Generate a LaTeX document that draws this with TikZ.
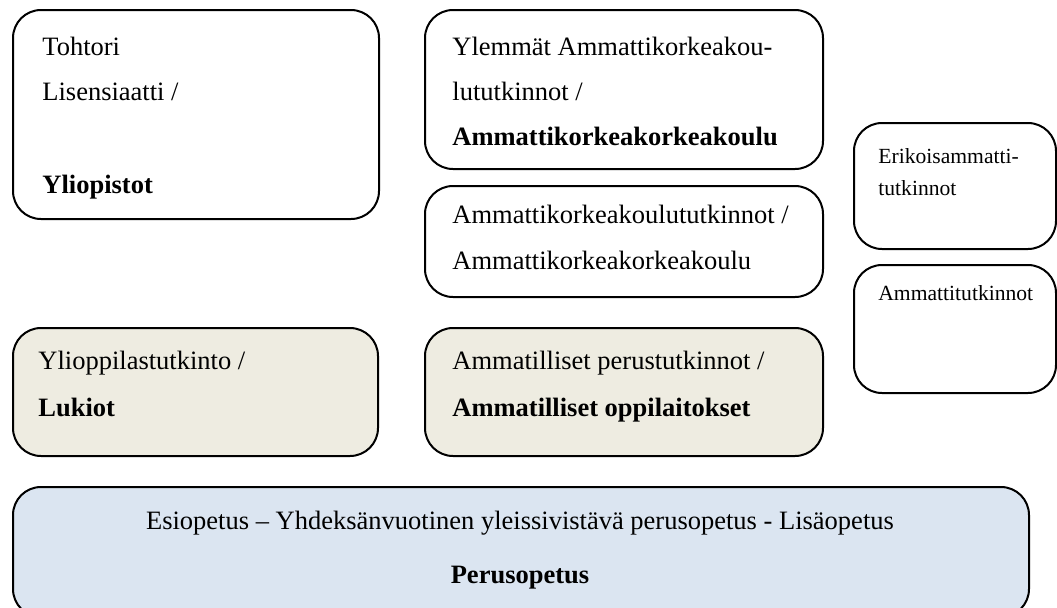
\documentclass[tikz,border=0pt]{standalone}
\usepackage{fontspec}
\setmainfont{Liberation Serif}
\definecolor{lukiofill}{HTML}{EEECE1}
\definecolor{perusfill}{HTML}{DBE5F1}
\tikzset{
  kouluaste/.style={draw, line width=1pt, rounded corners=14pt, anchor=north west, inner sep=0pt},
  tutkinto/.style={anchor=base west, inner sep=0pt, font=\fontsize{13.25}{22.5}\selectfont},
  pieni/.style={anchor=base west, inner sep=0pt, font=\fontsize{10.8}{16}\selectfont},
}
\begin{document}
\begin{tikzpicture}[x=0.5pt, y=-0.5pt]
\useasboundingbox (0,0) rectangle (1057,607);
% korkea-aste
\node[kouluaste, minimum width=183pt, minimum height=104.5pt] (yliopisto) at (12,9) {};
\node[kouluaste, minimum width=199pt, minimum height=79.5pt] (ylempiamk) at (424,9) {};
\node[kouluaste, minimum width=199pt, minimum height=55.5pt] (amk) at (424,185) {};
% aikuiskoulutus
\node[kouluaste, minimum width=101pt, minimum height=63pt] (erikois) at (853,122) {};
\node[kouluaste, minimum width=101pt, minimum height=64pt] (ammatti) at (853,264) {};
% toinen aste
\node[kouluaste, fill=lukiofill, minimum width=182.5pt, minimum height=64pt] (lukio) at (12,327) {};
\node[kouluaste, fill=lukiofill, minimum width=199pt, minimum height=64pt] (ammatillinen) at (424,327) {};
% perusaste
\node[kouluaste, fill=perusfill, minimum width=508pt, minimum height=65pt] (perus) at (12,486) {};

\node[tutkinto] (tohtori) at (42,55) {Tohtori};
\node[tutkinto] (lisensiaatti) at (42,100) {Lisensiaatti /};
\node[tutkinto] (yliopistot) at (42,193) {\textbf{Yliopistot}};

\node[tutkinto] (ylempi1) at (452,55) {Ylemmät Ammattikorkeakou-};
\node[tutkinto] (ylempi2) at (452,100) {lututkinnot /};
\node[tutkinto] (ylempi3) at (452,145) {\textbf{Ammattikorkeakorkeakoulu}};

\node[tutkinto] (amk1) at (452,223) {Ammattikorkeakoulututkinnot /};
\node[tutkinto] (amk2) at (452,269) {Ammattikorkeakorkeakoulu};

\node[pieni] (erikois1) at (878,163) {Erikoisammatti-};
\node[pieni] (erikois2) at (878,195) {tutkinnot};
\node[pieni] (ammatti1) at (878,300) {Ammattitutkinnot};

\node[tutkinto] (lukio1) at (38,369) {Ylioppilastutkinto /};
\node[tutkinto] (lukio2) at (38,416) {\textbf{Lukiot}};

\node[tutkinto] (ammatillinen1) at (452,369) {Ammatilliset perustutkinnot /};
\node[tutkinto] (ammatillinen2) at (452,416) {\textbf{Ammatilliset oppilaitokset}};

\node[tutkinto, anchor=base] (perus1) at (520,529) {Esiopetus – Yhdeksänvuotinen yleissivistävä perusopetus - Lisäopetus};
\node[tutkinto, anchor=base] (perus2) at (520,583) {\textbf{Perusopetus}};
\end{tikzpicture}
\end{document}
